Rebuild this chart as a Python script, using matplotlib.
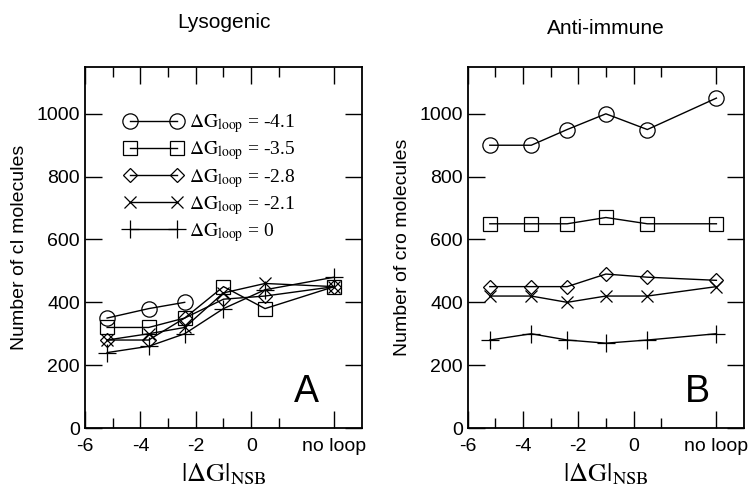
import numpy as np
import matplotlib
matplotlib.use("Agg")
import matplotlib.pyplot as plt

# free energies (x) used for both panels; 3 stands for "no loop"
dg_nsb = [-5.2, -3.7, -2.4, -1.0, 0.5, 3]

loop_labels = ["-4.1", "-3.5", "-2.8", "-2.1", "0"]
markers = ["o", "s", "D", "x", "+"]

# Lysogenic: number of cI molecules
ci_m41 = [350, 380, 400]
ci_m35 = [320, 320, 350, 450, 380, 450]
ci_m28 = [280, 280, 350, 410, 420, 450]
ci_m21 = [280, 300, 320, 430, 460, 450]
ci_0 = [240, 260, 300, 380, 440, 480]

# Anti-immune: number of cro molecules
cro_m41 = [900, 900, 950, 1000, 950, 1050]
cro_m35 = [650, 650, 650, 670, 650, 650]
cro_m28 = [450, 450, 450, 490, 480, 470]
cro_m21 = [420, 420, 400, 420, 420, 450]
cro_0 = [280, 300, 280, 270, 280, 300]

plt.rcParams['font.family'] = ['Liberation Sans', 'DejaVu Sans']
plt.rcParams['mathtext.fontset'] = 'stix'

fig = plt.figure(figsize=(7.54, 4.94), dpi=100)
axA = fig.add_axes([0.1127, 0.1336, 0.3674, 0.7314])
axB = fig.add_axes([0.6203, 0.1336, 0.3665, 0.7314])

msizes = {"o": 11, "s": 9.5, "D": 7.5, "x": 9, "+": 13}

def draw(ax, series, ylabel, title, letter, lx, ty, legend=False):
    for ys, m, lab in zip(series, markers, loop_labels):
        ax.plot(dg_nsb[:len(ys)], ys, color='black', lw=1, marker=m,
                ms=msizes[m], mfc='none', mec='black', mew=0.9,
                label=r'$\Delta\mathrm{G}_{\mathrm{loop}}$ = ' + lab)
    ax.set_xlim(-6, 4)
    ax.set_ylim(0, 1150)
    ax.set_xticks([-6, -4, -2, 0, 3])
    ax.set_xticklabels(["-6", "-4", "-2", "0", "no loop"])
    ax.set_xticks([-5, -3, -1, 1], minor=True)
    ax.set_yticks([0, 200, 400, 600, 800, 1000])
    ax.tick_params(which='both', direction='in', top=True, right=True, labelsize=14)
    ax.tick_params(which='major', length=12, width=1)
    ax.tick_params(axis='x', which='major', pad=7)
    ax.tick_params(which='minor', length=7, width=1)
    for s in ax.spines.values():
        s.set_linewidth(1.3)
    ax.set_ylabel(ylabel, fontsize=14, labelpad=6)
    ax.set_xlabel(r'$|\Delta\mathrm{G}|_{\mathrm{NSB}}$', fontsize=19, labelpad=5)
    ax.text(lx, 0.1, letter, transform=ax.transAxes, fontsize=27, ha='center', va='center')
    fig.text(ax.get_position().x0 + ax.get_position().width / 2, ty, title,
             fontsize=15, ha='center', va='center')
    if legend:
        ax.legend(loc='upper left', bbox_to_anchor=(0.08, 0.922), numpoints=2,
                  frameon=False, handlelength=3.0, handletextpad=0.3,
                  labelspacing=0.22, prop={'family': 'Liberation Serif', 'size': 14})

draw(axA, [ci_m41, ci_m35, ci_m28, ci_m21, ci_0], "Number of cI molecules",
     "Lysogenic", "A", 0.80, 1 - 22 / 494, legend=True)
draw(axB, [cro_m41, cro_m35, cro_m28, cro_m21, cro_0], "Number of cro molecules",
     "Anti-immune", "B", 0.833, 1 - 29 / 494)

fig.savefig("out.png", dpi=100)
